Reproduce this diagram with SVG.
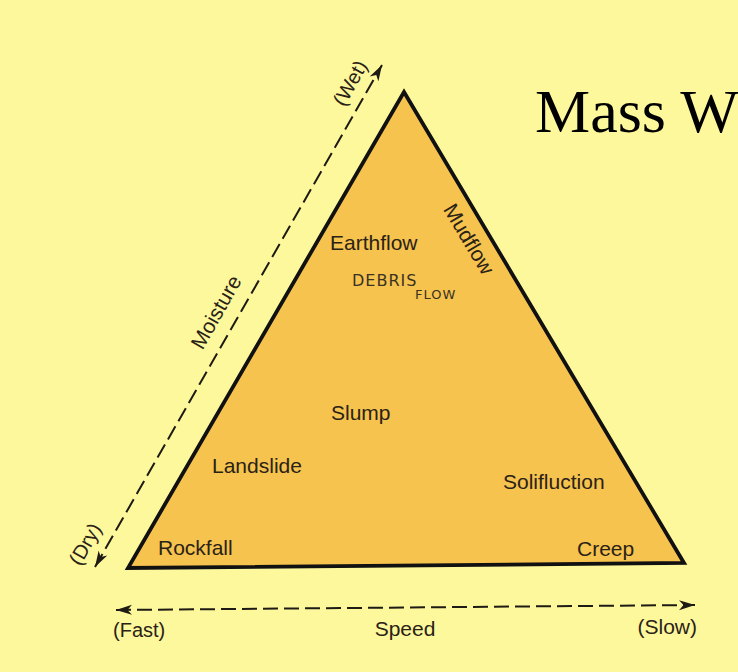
<svg xmlns="http://www.w3.org/2000/svg" width="738" height="672" viewBox="0 0 738 672">
  <style>
    .lbl { font-family: "Liberation Sans", Arial, sans-serif; font-size: 21px; fill: #2a2216; }
    .axis { font-family: "Liberation Sans", Arial, sans-serif; font-size: 20px; fill: #2a2216; }
    .hand { font-family: "DejaVu Sans", "Liberation Sans", sans-serif; fill: #3a3222; }
    .dash { stroke: #1e1a14; stroke-width: 2; fill: none; stroke-dasharray: 15 6; }
    .title { font-family: "Liberation Serif", "Times New Roman", serif; font-size: 62px; fill: #000; }
  </style>
  <defs>
    <marker id="arr" markerUnits="userSpaceOnUse" markerWidth="18" markerHeight="12" refX="16" refY="6" orient="auto-start-reverse">
      <path d="M0,1 L16,6 L0,11 L4.5,6 Z" fill="#1e1a14"/>
    </marker>
  </defs>
  <rect x="0" y="0" width="738" height="672" fill="#fef89c"/>

  <g id="triangle">
    <polygon points="404,92 684,563 128,568" fill="#f6c34e" stroke="#111" stroke-width="3.8" stroke-linejoin="miter"/>
  </g>

  <g id="title">
    <text class="title" x="535" y="132">Mass W</text>
  </g>

  <g id="connectors">
    <line class="dash" x1="95" y1="567" x2="382" y2="65" marker-start="url(#arr)" marker-end="url(#arr)"/>
    <line class="dash" x1="116" y1="610" x2="695" y2="605" marker-start="url(#arr)" marker-end="url(#arr)"/>
  </g>

  <g id="moisture-axis">
    <text class="lbl" text-anchor="middle" dy="0.35em" transform="translate(216,312) rotate(-60.4)">Moisture</text>
    <text class="axis" text-anchor="middle" dy="0.35em" transform="translate(350,83) rotate(-60.4)">(Wet)</text>
    <text class="axis" text-anchor="middle" dy="0.35em" transform="translate(85,544) rotate(-60.4)">(Dry)</text>
  </g>

  <g id="speed-axis">
    <text class="axis" x="113" y="637">(Fast)</text>
    <text class="lbl" x="405" y="636" text-anchor="middle">Speed</text>
    <text class="lbl" x="697" y="634" text-anchor="end">(Slow)</text>
  </g>

  <g id="node-earthflow"><text class="lbl" x="330" y="250">Earthflow</text></g>
  <g id="node-debrisflow">
    <text class="hand" x="352" y="286" font-size="16" letter-spacing="1">DEBRIS</text>
    <text class="hand" x="415" y="299" font-size="13" letter-spacing="1">FLOW</text>
  </g>
  <g id="node-mudflow"><text class="lbl" text-anchor="middle" dy="0.35em" transform="translate(469,239) rotate(59.3)">Mudflow</text></g>
  <g id="node-slump"><text class="lbl" x="331" y="420">Slump</text></g>
  <g id="node-landslide"><text class="lbl" x="212" y="473">Landslide</text></g>
  <g id="node-solifluction"><text class="lbl" x="503" y="489">Solifluction</text></g>
  <g id="node-rockfall"><text class="lbl" x="158" y="555">Rockfall</text></g>
  <g id="node-creep"><text class="lbl" x="577" y="556">Creep</text></g>
</svg>
